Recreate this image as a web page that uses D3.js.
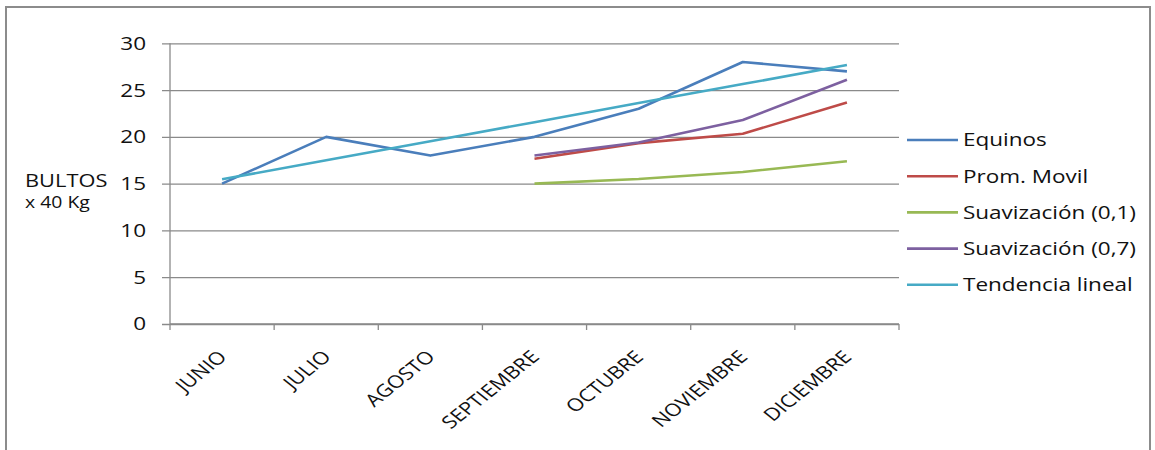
<!DOCTYPE html>
<html>
<head>
<meta charset="utf-8">
<script src="https://cdn.jsdelivr.net/npm/d3@7"></script>
<style>
  html, body { margin: 0; padding: 0; background: #ffffff; }
  svg { display: block; }
  text { font-family: "Open Sans", "DejaVu Sans", sans-serif; fill: #111111; }
</style>
</head>
<body>
<svg id="chart" width="1155" height="450"></svg>
<script>
// Months on the category axis
const months = ["JUNIO", "JULIO", "AGOSTO", "SEPTIEMBRE", "OCTUBRE", "NOVIEMBRE", "DICIEMBRE"];

// Series values (null = no value for that month)
const equinos      = [15, 20, 18, 20, 23, 28, 27];
const promMovil    = [null, null, null, 17.67, 19.33, 20.33, 23.67];
const suav01       = [null, null, null, 15.0, 15.5, 16.25, 17.4];
const suav07       = [null, null, null, 18.0, 19.4, 21.8, 26.1];
const tendencia    = [15.46, 17.5, 19.54, 21.57, 23.61, 25.64, 27.68];

// Y axis ticks
const yTicks = [0, 5, 10, 15, 20, 25, 30];

// Legend entries
const seriesNames  = ["Equinos", "Prom. Movil", "Suavización (0,1)", "Suavización (0,7)", "Tendencia lineal"];
const seriesColors = ["#4a7ebb", "#be4b48", "#98b954", "#7d60a0", "#46aac5"];
const seriesData   = [equinos, promMovil, suav01, suav07, tendencia];

const svg = d3.select("#chart");
const SX = 1.25; // horizontal text stretch

// Outer frame
svg.append("rect")
  .attr("x", 6).attr("y", 7).attr("width", 1144).attr("height", 460)
  .attr("fill", "#ffffff").attr("stroke", "#8c8c8c").attr("stroke-width", 2);

const plot = { left: 170, right: 899, top: 43.3, bottom: 324 };

const x = d3.scaleBand().domain(months).range([plot.left, plot.right]).padding(0);
const y = d3.scaleLinear().domain([0, 30]).range([plot.bottom, plot.top]);

// Horizontal gridlines with outside tick marks
const yAxis = d3.axisLeft(y).tickValues(yTicks).tickSize(-(plot.right - plot.left)).tickFormat("");
const gy = svg.append("g").attr("transform", `translate(${plot.left},0)`).call(yAxis);
gy.select(".domain").remove();
gy.selectAll(".tick line").attr("stroke", "#8a8a8a").attr("stroke-width", 1.3).attr("x1", -8);

// Y axis line
svg.append("line")
  .attr("x1", plot.left).attr("x2", plot.left)
  .attr("y1", y(30)).attr("y2", y(0))
  .attr("stroke", "#8a8a8a").attr("stroke-width", 1.3);

// Y tick labels
svg.append("g").selectAll("text").data(yTicks).join("text")
  .attr("transform", d => `translate(146,${y(d)}) scale(${SX},1)`)
  .attr("text-anchor", "end")
  .attr("dy", "0.36em")
  .style("font-size", "18px")
  .text(d => d);

// X axis line and tick marks at category boundaries
svg.append("line")
  .attr("x1", plot.left).attr("x2", plot.right)
  .attr("y1", y(0)).attr("y2", y(0))
  .attr("stroke", "#8a8a8a").attr("stroke-width", 1.3);
const bounds = months.map(m => x(m)).concat([x(months[months.length - 1]) + x.bandwidth()]);
svg.append("g").selectAll("line").data(bounds).join("line")
  .attr("x1", d => d).attr("x2", d => d)
  .attr("y1", y(0)).attr("y2", y(0) + 6)
  .attr("stroke", "#8a8a8a").attr("stroke-width", 1.3);

// Rotated month labels
svg.append("g").selectAll("text").data(months).join("text")
  .attr("transform", d => `translate(${x(d) + x.bandwidth() / 2 + 6},358) scale(${SX},1) rotate(-45)`)
  .attr("text-anchor", "end")
  .style("font-size", "17.5px")
  .text(d => d);

// Axis title
svg.append("text")
  .attr("transform", `translate(25,187) scale(${SX * 0.97},1)`)
  .style("font-size", "18px")
  .text("BULTOS");
svg.append("text")
  .attr("transform", `translate(25,208) scale(${SX * 0.97},1)`)
  .style("font-size", "16px")
  .text("x 40 Kg");

// Series lines
const line = d3.line()
  .defined(d => d.v !== null)
  .x(d => x(d.m) + x.bandwidth() / 2)
  .y(d => y(d.v));

seriesData.forEach((arr, i) => {
  svg.append("path")
    .datum(months.map((m, j) => ({ m, v: arr[j] })))
    .attr("d", line)
    .attr("fill", "none")
    .attr("stroke", seriesColors[i])
    .attr("stroke-width", 2.6)
    .attr("stroke-linejoin", "round");
});

// Legend
const lg = svg.append("g");
seriesNames.forEach((name, i) => {
  const cy = 140 + i * 36.2;
  lg.append("line")
    .attr("x1", 907).attr("x2", 958).attr("y1", cy).attr("y2", cy)
    .attr("stroke", seriesColors[i]).attr("stroke-width", 2.6);
  lg.append("text")
    .attr("transform", `translate(963,${cy}) scale(${SX},1)`)
    .attr("dy", "0.36em")
    .style("font-size", "18px")
    .text(name);
});
</script>
</body>
</html>
